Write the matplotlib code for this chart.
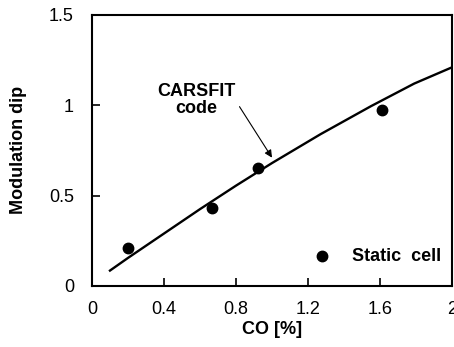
import matplotlib.pyplot as plt

# CARSFIT code curve
curve_co = [0.1, 0.2, 0.4, 0.6, 0.8, 1.0, 1.27, 1.55, 1.79, 2.0]
curve_dip = [0.085, 0.155, 0.29, 0.425, 0.555, 0.68, 0.84, 0.995, 1.12, 1.21]

# static cell measurements
cell_co = [0.2, 0.665, 0.925, 1.61]
cell_dip = [0.208, 0.43, 0.65, 0.975]

xticks = [0, 0.4, 0.8, 1.2, 1.6, 2]
xtick_labels = ['0', '0.4', '0.8', '1.2', '1.6', '2']
yticks = [0, 0.5, 1, 1.5]
ytick_labels = ['0', '0.5', '1', '1.5']

plt.rcParams['font.family'] = ['Liberation Sans', 'DejaVu Sans']

fig = plt.figure(figsize=(4.54, 3.47), dpi=100)
ax = fig.add_axes([0.2026, 0.176, 0.793, 0.781])

ax.plot(curve_co, curve_dip, color='black', lw=1.7)
ax.plot(cell_co, cell_dip, 'o', color='black', ms=7.5)

# legend entry drawn by hand like in the original
ax.plot([1.28], [0.167], 'o', color='black', ms=7.5)
ax.text(1.445, 0.165, 'Static  cell', fontsize=13, fontweight='bold', va='center', ha='left')

ax.annotate('CARSFIT\ncode', xy=(1.0, 0.71), xytext=(0.58, 1.03),
            ha='center', va='center', fontsize=13, fontweight='bold', linespacing=1.0,
            arrowprops=dict(arrowstyle='-|>', color='black', lw=0.8, shrinkA=0, shrinkB=0,
                            mutation_scale=11, relpos=(1.05, 0.3)))

ax.set_xlim(0, 2)
ax.set_ylim(0, 1.5)
ax.set_xticks(xticks)
ax.set_xticklabels(xtick_labels)
ax.set_yticks(yticks)
ax.set_yticklabels(ytick_labels)
ax.tick_params(direction='in', length=6, width=1.2, labelsize=13, pad=11)
ax.tick_params(axis='y', pad=13)

for s in ax.spines.values():
    s.set_linewidth(1.5)

ax.set_xlabel('CO [%]', fontsize=13, fontweight='bold', labelpad=2)
ax.set_ylabel('Modulation dip', fontsize=13, fontweight='bold', labelpad=16)

fig.savefig('out.png', dpi=100)
